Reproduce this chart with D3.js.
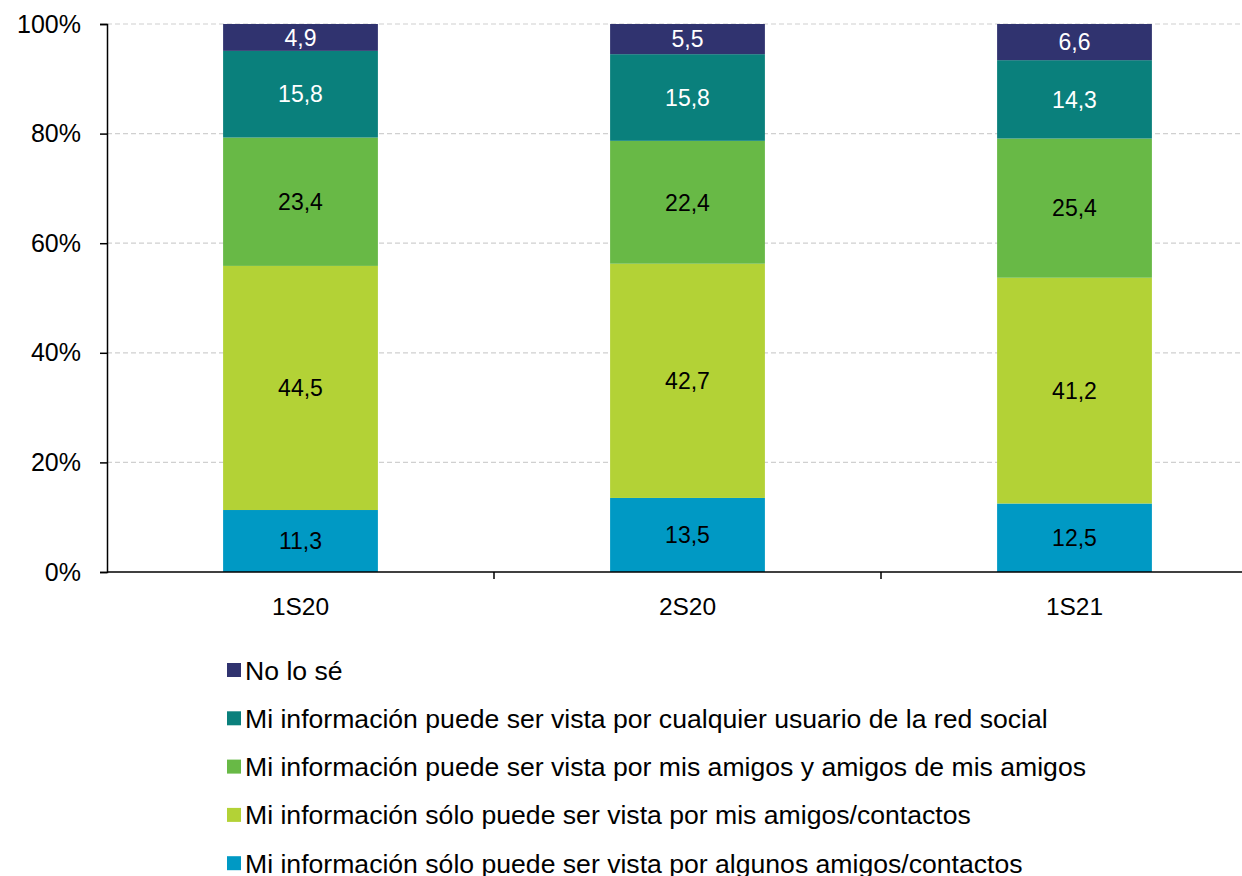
<!DOCTYPE html>
<html>
<head>
<meta charset="utf-8">
<script src="https://cdn.jsdelivr.net/npm/d3@7"></script>
<style>
  body { margin: 0; background: #fff; }
  text { font-family: "Liberation Sans", Arial, sans-serif; }
</style>
</head>
<body>
<div id="chart"></div>
<script>
// ----------------------------------------------------------------
// Data
// ----------------------------------------------------------------

const categories = ["1S20", "2S20", "1S21"];
const seriesNames = [
  "Mi información sólo puede ser vista por algunos amigos/contactos",
  "Mi información sólo puede ser vista por mis amigos/contactos",
  "Mi información puede ser vista por mis amigos y amigos de mis amigos",
  "Mi información puede ser vista por cualquier usuario de la red social",
  "No lo sé"
];
const algunos   = [11.3, 13.5, 12.5];
const amigos    = [44.5, 42.7, 41.2];
const amigosDe  = [23.4, 22.4, 25.4];
const cualquier = [15.8, 15.8, 14.3];
const noLoSe    = [4.9, 5.5, 6.6];
const yTicks = [0, 20, 40, 60, 80, 100];

const colors = ["#0099c4", "#b3d236", "#68b946", "#0a807c", "#30336f"];
const labelColors = ["#000", "#000", "#000", "#fff", "#fff"];

// ----------------------------------------------------------------
// Chart
// ----------------------------------------------------------------

const width = 1242, height = 876;
const plot = { left: 107, top: 24, bottom: 572, right: 1268 };

const svg = d3.select("#chart").append("svg")
  .attr("width", width)
  .attr("height", height);

const x = d3.scaleBand()
  .domain(categories)
  .range([plot.left, plot.right])
  .paddingInner(0.6)
  .paddingOuter(0.3);

const y = d3.scaleLinear()
  .domain([0, 100])
  .range([plot.bottom, plot.top]);

// gridlines
svg.append("g")
  .selectAll("line")
  .data(yTicks.filter(d => d > 0))
  .join("line")
  .attr("x1", plot.left)
  .attr("x2", width)
  .attr("y1", d => y(d))
  .attr("y2", d => y(d))
  .attr("stroke", "#d0d0d0")
  .attr("stroke-width", 1.2)
  .attr("stroke-dasharray", "5,3");

// stacked, normalised to 100%
const allSeries = [algunos, amigos, amigosDe, cualquier, noLoSe];
const rows = categories.map((c, i) => {
  const row = { cat: c };
  allSeries.forEach((s, k) => { row[k] = s[i]; });
  return row;
});
const stack = d3.stack()
  .keys(d3.range(allSeries.length))
  .offset(d3.stackOffsetExpand);
const stacked = stack(rows);

const layers = svg.append("g")
  .selectAll("g")
  .data(stacked)
  .join("g")
  .attr("fill", (d, k) => colors[k]);

layers.selectAll("rect")
  .data(d => d)
  .join("rect")
  .attr("x", d => x(d.data.cat))
  .attr("width", x.bandwidth())
  .attr("y", d => y(d[1] * 100))
  .attr("height", d => y(d[0] * 100) - y(d[1] * 100));

layers.each(function (layer, k) {
  d3.select(this).selectAll("text")
    .data(layer)
    .join("text")
    .attr("x", d => x(d.data.cat) + x.bandwidth() / 2)
    .attr("y", d => (y(d[0] * 100) + y(d[1] * 100)) / 2)
    .attr("dy", "0.36em")
    .attr("text-anchor", "middle")
    .attr("font-size", 23)
    .attr("fill", labelColors[k])
    .text(d => d3.format(".1f")(allSeries[k][categories.indexOf(d.data.cat)]).replace(".", ","));
});

// y axis
const yAxis = svg.append("g")
  .attr("transform", `translate(${plot.left},0)`)
  .call(d3.axisLeft(y).tickValues(yTicks).tickSize(7).tickPadding(19).tickFormat(d => d + "%"));
yAxis.select(".domain").attr("stroke", "#000").attr("stroke-width", 1.5);
yAxis.selectAll(".tick line").attr("stroke", "#000").attr("stroke-width", 1.5);
yAxis.selectAll("text").attr("font-size", 25).attr("fill", "#000")
  .style("font-family", "'Liberation Sans', Arial, sans-serif");

// x axis
const xg = svg.append("g");
xg.append("line")
  .attr("x1", plot.left).attr("x2", width)
  .attr("y1", plot.bottom).attr("y2", plot.bottom)
  .attr("stroke", "#000").attr("stroke-width", 1.5);
const step = x.step();
xg.selectAll(".sep")
  .data(categories.slice(1))
  .join("line")
  .attr("class", "sep")
  .attr("x1", d => x(d) - step * x.paddingInner() / 2)
  .attr("x2", d => x(d) - step * x.paddingInner() / 2)
  .attr("y1", plot.bottom)
  .attr("y2", plot.bottom + 7)
  .attr("stroke", "#000").attr("stroke-width", 1.5);
xg.selectAll(".cat")
  .data(categories)
  .join("text")
  .attr("class", "cat")
  .attr("x", d => x(d) + x.bandwidth() / 2)
  .attr("y", 606)
  .attr("dy", "0.36em")
  .attr("text-anchor", "middle")
  .attr("font-size", 24.5)
  .text(d => d);

// legend (top entry is last series)
const legendOrder = d3.range(seriesNames.length).reverse();
const legend = svg.append("g")
  .selectAll("g")
  .data(legendOrder)
  .join("g")
  .attr("transform", (d, i) => `translate(227,${670 + i * 48.3})`);
legend.append("rect")
  .attr("x", 0).attr("y", -7)
  .attr("width", 14).attr("height", 14)
  .attr("fill", d => colors[d]);
legend.append("text")
  .attr("x", 18)
  .attr("dy", "0.36em")
  .attr("font-size", 26.6)
  .text(d => seriesNames[d]);
</script>
</body>
</html>
